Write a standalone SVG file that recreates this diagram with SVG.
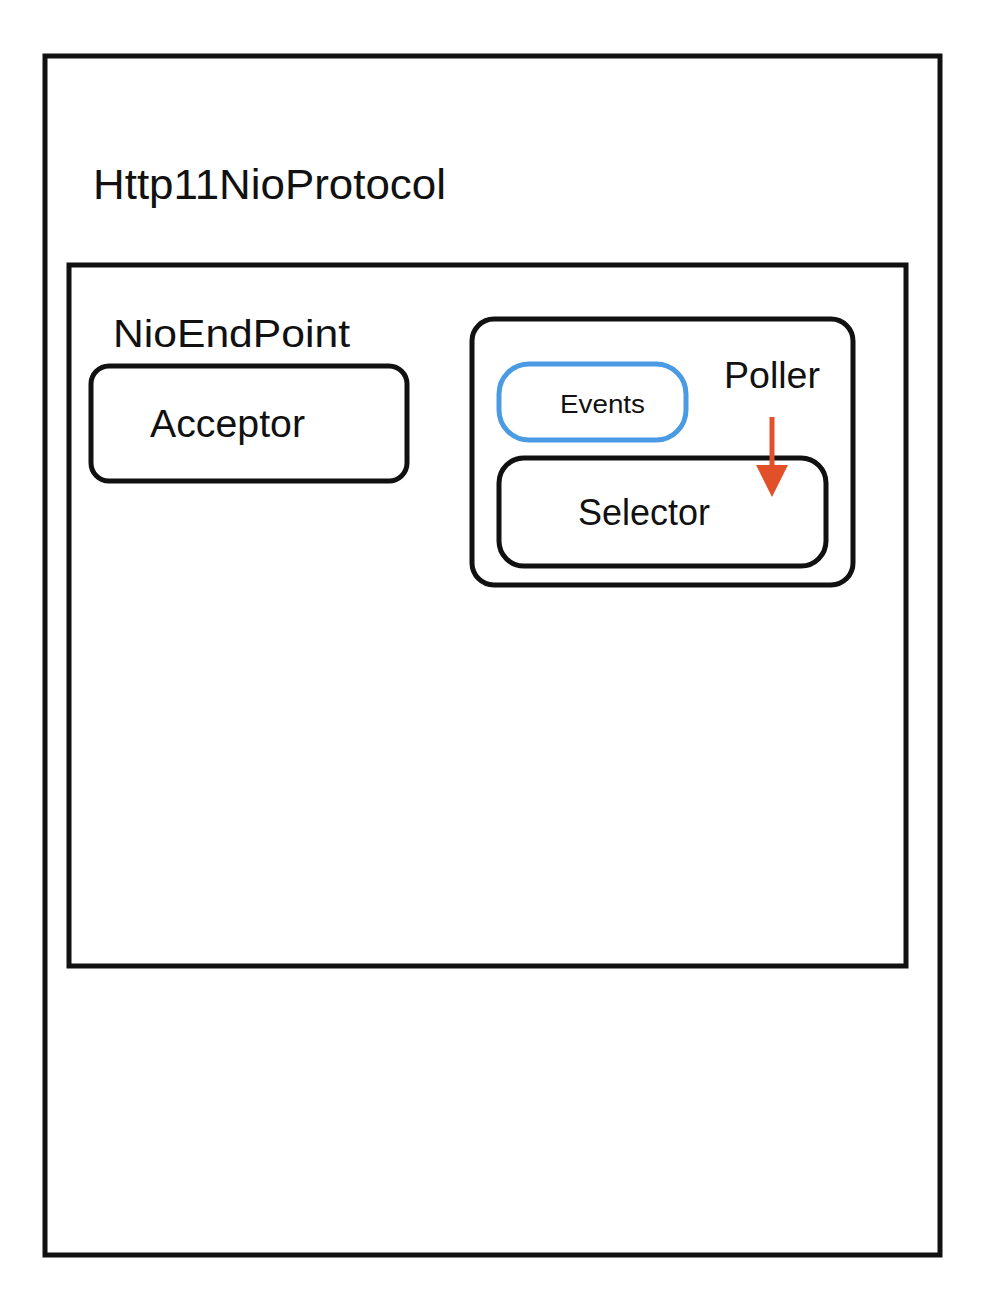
<svg xmlns="http://www.w3.org/2000/svg" width="986" height="1290" viewBox="0 0 986 1290">
<style>
.box{fill:none;stroke:#111;stroke-width:5}
.lbl{font-family:"Liberation Sans",Arial,sans-serif;fill:#111}
</style>
<rect width="986" height="1290" fill="#fff"/>
<g id="http11NioProtocol">
<rect class="box" x="45" y="56" width="895" height="1199"/>
<text class="lbl" x="93" y="199" font-size="42" textLength="353" lengthAdjust="spacingAndGlyphs">Http11NioProtocol</text>
</g>
<g id="nioEndPoint">
<rect class="box" x="69" y="265" width="837" height="701"/>
<text class="lbl" x="113" y="347" font-size="38" textLength="237" lengthAdjust="spacingAndGlyphs">NioEndPoint</text>
</g>
<g id="acceptor">
<rect class="box" x="91" y="366" width="316" height="115" rx="18"/>
<text class="lbl" x="150" y="437" font-size="38" textLength="155" lengthAdjust="spacingAndGlyphs">Acceptor</text>
</g>
<g id="poller">
<rect class="box" x="472" y="319" width="381" height="266" rx="22"/>
<text class="lbl" x="724" y="388" font-size="37" textLength="96" lengthAdjust="spacingAndGlyphs">Poller</text>
</g>
<g id="events">
<rect x="499" y="364" width="187" height="76" rx="30" fill="none" stroke="#4a9be3" stroke-width="5"/>
<text class="lbl" x="560" y="413" font-size="26" textLength="85" lengthAdjust="spacingAndGlyphs" fill="#222">Events</text>
</g>
<g id="selector">
<rect class="box" x="499" y="458" width="327" height="108" rx="25"/>
<text class="lbl" x="578" y="525" font-size="36" textLength="132" lengthAdjust="spacingAndGlyphs">Selector</text>
</g>
<g id="connectors">
<line x1="772" y1="417" x2="772" y2="468" stroke="#e2502a" stroke-width="5"/>
<polygon points="756,465 788,465 772,497" fill="#e2502a"/>
</g>
</svg>
